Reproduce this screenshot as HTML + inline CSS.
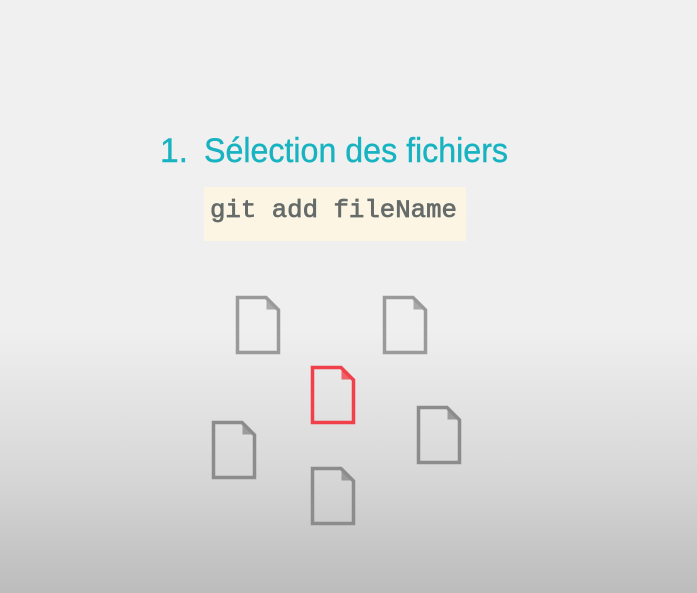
<!DOCTYPE html>
<html><head><meta charset="utf-8"><style>
html,body{margin:0;padding:0;width:697px;height:593px;overflow:hidden}
body{background:linear-gradient(to bottom,#f0f0f0 0px,#efefef 330px,#d8d8d8 470px,#bcbcbc 593px)}
</style></head><body>
<svg width="697" height="593" viewBox="0 0 697 593" xmlns="http://www.w3.org/2000/svg" style="position:absolute;left:0;top:0">
<defs>
<g id="doc">
<path d="M1.5 1.5 H30 L42.5 14 V56.5 H1.5 Z" fill="none" stroke-width="3.5" stroke-linejoin="miter"/>
<path d="M31 4 V13 H40 Z" stroke-width="1" opacity="0.8"/>
</g>
</defs>
<text x="160" y="162" font-family="Liberation Sans, sans-serif" font-size="34" fill="#17b3c1" stroke="#17b3c1" stroke-width="0.4" textLength="28" lengthAdjust="spacingAndGlyphs">1.</text>
<text x="204" y="162" font-family="Liberation Sans, sans-serif" font-size="34" fill="#17b3c1" stroke="#17b3c1" stroke-width="0.4" textLength="304" lengthAdjust="spacingAndGlyphs">Sélection des fichiers</text>
<rect x="204" y="187" width="262" height="54" fill="#fcf5e3"/>
<text x="210" y="217" font-family="Liberation Mono, monospace" font-size="25" fill="#646b69" stroke="#646b69" stroke-width="0.7" textLength="247" lengthAdjust="spacingAndGlyphs">git add fileName</text>
<g stroke="#9a9a9a" fill="#9a9a9a"><use href="#doc" x="236" y="296"/><use href="#doc" x="383" y="296"/></g>
<g stroke="#f0414a" fill="#f0414a"><use href="#doc" x="311" y="366"/></g>
<g stroke="#8c8c8c" fill="#8c8c8c"><use href="#doc" x="212" y="421"/><use href="#doc" x="417" y="406"/><use href="#doc" x="311" y="467"/></g>
</svg>
</body></html>
